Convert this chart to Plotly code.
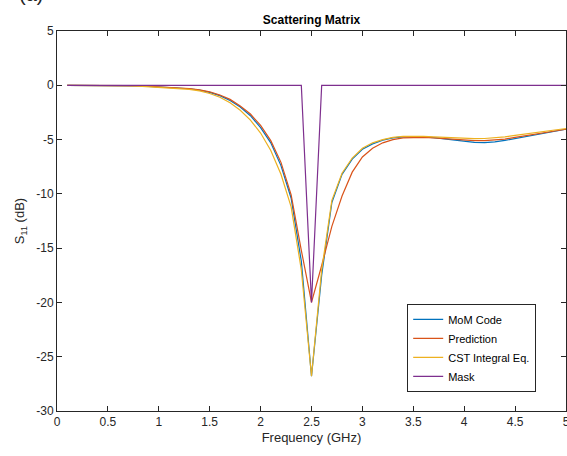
import plotly.graph_objects as go

# Frequency sweep (GHz)
freq = [round(0.1 * i, 1) for i in range(1, 51)]

# |S11| in dB for each solver / model
mom_code = [0, 0, 0, 0, 0, 0, -0.02, -0.06, -0.1, -0.14,
            -0.18, -0.24, -0.32, -0.45, -0.65, -0.95, -1.4, -2.0, -2.8, -3.9,
            -5.3, -7.4, -10.4, -16.2, -26.8, -17.5, -10.8, -8.2, -6.8, -5.9,
            -5.4, -5.05, -4.85, -4.75, -4.72, -4.75, -4.82, -4.92, -5.05, -5.17,
            -5.25, -5.28, -5.22, -5.08, -4.9, -4.72, -4.55, -4.38, -4.22, -4.05]

prediction = [0, 0, 0, 0, 0, 0, -0.02, -0.05, -0.09, -0.13,
              -0.17, -0.22, -0.3, -0.42, -0.6, -0.9, -1.3, -1.9, -2.65, -3.7,
              -5.1, -7.1, -10.1, -15.2, -20.0, -16.6, -13.0, -10.2, -8.0, -6.6,
              -5.8, -5.3, -5.0, -4.85, -4.8, -4.8, -4.85, -4.92, -5.0, -5.07,
              -5.1, -5.1, -5.05, -4.95, -4.8, -4.65, -4.5, -4.35, -4.2, -4.05]

cst_integral = [0, 0, 0, 0, 0, 0, -0.03, -0.07, -0.12, -0.17,
                -0.22, -0.29, -0.38, -0.52, -0.76, -1.1, -1.6, -2.3, -3.2, -4.4,
                -6.0, -8.2, -11.2, -17.0, -26.8, -17.0, -10.6, -8.1, -6.7, -5.8,
                -5.3, -5.0, -4.8, -4.7, -4.68, -4.7, -4.75, -4.8, -4.85, -4.9,
                -4.92, -4.9, -4.85, -4.75, -4.62, -4.5, -4.38, -4.25, -4.12, -3.98]

mask = [0] * 24 + [-20] + [0] * 25

series = [
    ("MoM Code", mom_code, "#0072BD"),
    ("Prediction", prediction, "#D95319"),
    ("CST Integral Eq.", cst_integral, "#EDB120"),
    ("Mask", mask, "#7E2F8E"),
]

x_ticks = [0, 0.5, 1, 1.5, 2, 2.5, 3, 3.5, 4, 4.5, 5]
x_tick_text = ["0", "0.5", "1", "1.5", "2", "2.5", "3", "3.5", "4", "4.5", "5"]
y_ticks = [5, 0, -5, -10, -15, -20, -25, -30]
y_tick_text = ["5", "0", "-5", "-10", "-15", "-20", "-25", "-30"]

FONT = "Liberation Sans, Arial, sans-serif"

fig = go.Figure()
for name, vals, color in series:
    fig.add_trace(go.Scatter(x=freq, y=vals, mode="lines", name=name,
                             line=dict(color=color, width=1.2)))

axis_common = dict(
    showline=True, linecolor="#262626", linewidth=1,
    mirror="ticks", ticks="inside", ticklen=5, tickcolor="#262626",
    showgrid=False, zeroline=False, ticklabeloverflow="allow", automargin=False,
    tickfont=dict(family=FONT, size=12, color="#262626"),
)

fig.update_xaxes(range=[0, 5], tickvals=x_ticks, ticktext=x_tick_text,
                 title=dict(text="Frequency (GHz)", standoff=4,
                            font=dict(family=FONT, size=13, color="#262626")),
                 **axis_common)
fig.update_yaxes(range=[-30, 5], tickvals=y_ticks, ticktext=y_tick_text,
                 title=dict(text="S<sub>11</sub> (dB)", standoff=8,
                            font=dict(family=FONT, size=13, color="#262626")),
                 **axis_common)

fig.update_layout(
    width=567, height=456,
    margin=dict(l=57, r=1, t=31, b=45),
    paper_bgcolor="white", plot_bgcolor="white",
    title=dict(text="<b>Scattering Matrix</b>", x=(57 + 566) / 2 / 567, xanchor="center",
               y=1 - 20 / 456, yanchor="middle",
               font=dict(family=FONT, size=12, color="black")),
    legend=dict(x=0.688, y=0.282, xanchor="left", yanchor="top",
                bgcolor="white", bordercolor="#262626", borderwidth=1,
                font=dict(family=FONT, size=11, color="black"),
                tracegroupgap=0),
    showlegend=True,
    annotations=[dict(text="(a)", xref="paper", yref="paper", x=-0.052, y=1.062,
                      xanchor="center", yanchor="bottom", showarrow=False,
                      font=dict(family=FONT, size=20, color="#262626"))],
)

fig.write_html("out.html")
